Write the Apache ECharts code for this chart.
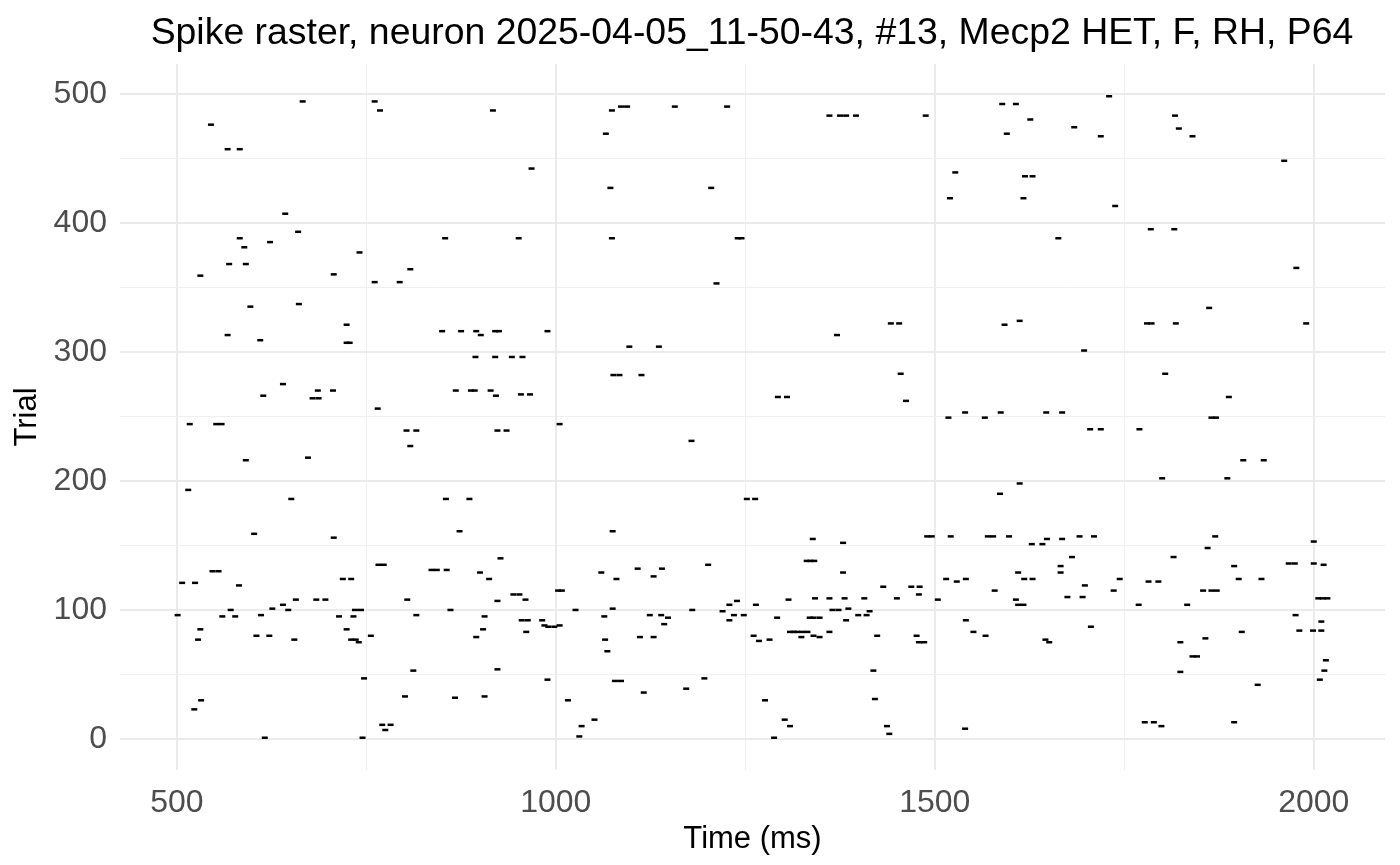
<!DOCTYPE html>
<html>
<head>
<meta charset="utf-8">
<script src="https://cdn.jsdelivr.net/npm/echarts@6/dist/echarts.min.js"></script>
<style>
html,body{margin:0;padding:0;background:#fff;}
#chart{width:1400px;height:865px;}
</style>
</head>
<body>
<div id="chart"></div>
<script>
const titleText = "Spike raster, neuron 2025-04-05_11-50-43, #13, Mecp2 HET, F, RH, P64";
const xTicks = [500, 1000, 1500, 2000];
const xMinorTicks = [750, 1250, 1750];
const yTicks = [0, 100, 200, 300, 400, 500];
const yMinorTicks = [50, 150, 250, 350, 450];

// spike times (ms) and trial numbers
const spikeTime = [
666,761,768,545,567,583,643,660,583,623,589,569,591,531,707,741,854,808,761,794,
917,1074,1086,1094,1157,1226,1066,968,1072,1205,951,1074,1240,1245,1212,
1361,1375,1383,1396,1488,1730,1589,1607,1626,1595,1684,1719,1527,1619,1629,1520,1617,1663,
1817,1822,1840,1961,1738,1785,1816,1977,
597,661,724,567,610,724,728,850,875,895,901,894,640,614,686,706,679,687,868,888,893,765,517,552,559,803,816,808,591,673,515,651,855,886,602,873,
1097,1136,920,942,956,920,925,989,1076,1084,1113,1293,1305,914,921,954,966,923,935,1005,1179,1252,1263,1075,
1442,1453,1371,1592,1612,1697,1455,1462,1518,1540,1566,1587,1647,1668,1705,1719,1612,1586,
1862,1780,1786,1818,1990,1804,1888,1865,1871,1770,1907,1934,1800,1886,
707,547,555,507,524,582,719,730,766,773,836,843,856,657,684,696,804,501,571,560,577,611,626,640,647,714,733,735,743,816,861,531,528,605,622,655,724,730,736,740,756,895,812,747,801,867,532,523,771,782,775,616,745,
927,900,912,944,952,923,960,1003,1008,1060,1080,1108,1140,1129,1201,906,904,955,963,982,961,985,990,998,1005,1026,1075,1064,1065,1068,1124,1139,1148,1143,1111,1129,1180,1220,1229,1239,1229,1235,1248,1264,1292,1307,1261,1268,1282,923,989,906,1078,1086,1116,1172,1196,1016,1051,1034,1031,1276,1302,1309,1288,
1339,1379,1490,1496,1521,1570,1577,1598,1628,1642,1648,1668,1691,1710,1331,1336,1341,1379,1681,1666,1666,1610,1618,1629,1515,1529,1541,1579,1698,1432,1469,1480,1479,1342,1361,1381,1407,1450,1504,1607,1610,1617,1675,1695,1365,1373,1386,1414,1399,1410,1383,1335,1340,1348,1309,1314,1318,1325,1332,1324,1340,1348,1361,1424,1476,1479,1486,1541,1551,1567,1646,1651,1706,1419,1421,1437,1440,1540,
1870,2000,1860,1815,1895,1967,1975,2000,2013,1744,1782,1795,1901,1931,1736,1854,1865,1872,1769,1833,2006,2012,2018,1976,2010,1981,1999,2010,1905,1857,1824,1840,1846,2016,2014,1824,2008,1926,1777,1789,1799,1895
];
const spikeTrial = [
494,494,487,476,457,457,407,393,388,385,381,368,368,359,360,377,388,364,354,354,
487,487,490,490,490,490,469,442,427,427,388,388,388,388,353,
483,483,483,483,483,498,492,492,480,469,474,467,439,436,436,419,419,388,
483,473,467,448,413,395,395,365,
335,337,321,313,309,307,307,316,316,316,313,296,275,266,270,270,264,264,270,270,270,256,244,244,244,239,239,227,216,218,193,186,186,186,159,161,
304,304,296,296,296,316,316,316,282,282,282,265,265,270,266,267,267,239,239,244,231,186,186,161,
322,322,313,321,324,301,283,262,249,253,249,253,253,253,240,240,198,190,
334,322,322,322,322,283,265,249,249,240,216,216,202,202,
156,130,130,121,121,119,124,124,135,135,131,131,131,108,108,108,108,96,100,95,95,96,101,104,100,95,95,100,100,96,100,85,77,80,80,77,85,77,77,75,80,79,53,47,33,32,30,23,11,11,7,1,1,
140,129,124,112,112,107,108,115,115,129,124,132,132,126,135,95,85,92,92,92,83,88,87,87,88,100,101,95,77,68,96,96,94,89,79,79,100,99,104,107,92,96,96,104,94,108,80,76,77,54,46,33,45,45,36,39,47,30,15,10,2,30,15,10,1,
155,152,157,157,157,157,157,157,151,151,155,155,157,157,138,138,138,129,141,134,129,129,124,124,124,122,124,115,119,118,118,118,112,109,109,109,109,109,108,108,104,104,110,110,100,100,101,99,96,96,92,94,94,94,83,83,83,83,83,79,80,79,83,80,80,75,75,92,83,80,77,75,87,53,31,10,4,8,
157,153,148,141,134,136,136,136,135,124,122,122,124,124,115,115,115,115,104,104,109,109,109,96,91,84,84,84,83,78,75,64,64,61,53,52,46,42,13,13,10,13
];

const spikeData = spikeTime.map((t, i) => [t, spikeTrial[i]]);

const majorStyle = { color: '#EBEBEB', width: 2, type: 'solid' };
const minorStyle = { color: '#EFEFEF', width: 1, type: 'solid' };
const gridLines = []
  .concat(xMinorTicks.map(v => ({ xAxis: v, lineStyle: minorStyle })))
  .concat(yMinorTicks.map(v => ({ yAxis: v, lineStyle: minorStyle })))
  .concat(xTicks.map(v => ({ xAxis: v, lineStyle: majorStyle })))
  .concat(yTicks.map(v => ({ yAxis: v, lineStyle: majorStyle })));

const chart = echarts.init(document.getElementById('chart'), null, { renderer: 'canvas' });
chart.setOption({
  animation: false,
  backgroundColor: '#ffffff',
  textStyle: { fontFamily: 'Liberation Sans, Arial, sans-serif' },
  title: {
    text: titleText,
    left: 747,
    top: 10,
    textAlign: 'center',
    textStyle: { fontSize: 37.4, fontWeight: 'normal', color: '#000', fontFamily: 'Liberation Sans' }
  },
  grid: { left: 120, right: 15, top: 64, bottom: 95, containLabel: false },
  xAxis: {
    type: 'value',
    min: 425,
    max: 2094,
    name: 'Time (ms)',
    nameLocation: 'middle',
    nameGap: 46,
    nameTextStyle: { fontSize: 31, color: '#000', fontFamily: 'Liberation Sans' },
    axisLine: { show: false },
    axisTick: { show: false },
    splitLine: { show: false },
    axisLabel: {
      customValues: xTicks,
      formatter: v => String(v),
      fontSize: 32,
      color: '#4D4D4D',
      margin: 17,
      fontFamily: 'Liberation Sans'
    }
  },
  yAxis: {
    type: 'value',
    min: -24,
    max: 523,
    name: 'Trial',
    nameLocation: 'middle',
    nameGap: 72,
    nameRotate: 90,
    nameTextStyle: { fontSize: 31, color: '#000', fontFamily: 'Liberation Sans' },
    axisLine: { show: false },
    axisTick: { show: false },
    splitLine: { show: false },
    axisLabel: {
      customValues: yTicks,
      formatter: v => String(v),
      fontSize: 32,
      color: '#4D4D4D',
      margin: 13,
      fontFamily: 'Liberation Sans'
    }
  },
  series: [
    {
      type: 'scatter',
      data: [],
      silent: true,
      z: 1,
      markLine: {
        silent: true,
        z: 1,
        symbol: ['none', 'none'],
        label: { show: false },
        animation: false,
        data: gridLines
      }
    },
    {
      type: 'scatter',
      data: spikeData,
      symbol: 'rect',
      symbolSize: [6, 2.5],
      itemStyle: { color: '#000', opacity: 1 },
      z: 10,
      silent: true
    }
  ]
});
</script>
</body>
</html>
